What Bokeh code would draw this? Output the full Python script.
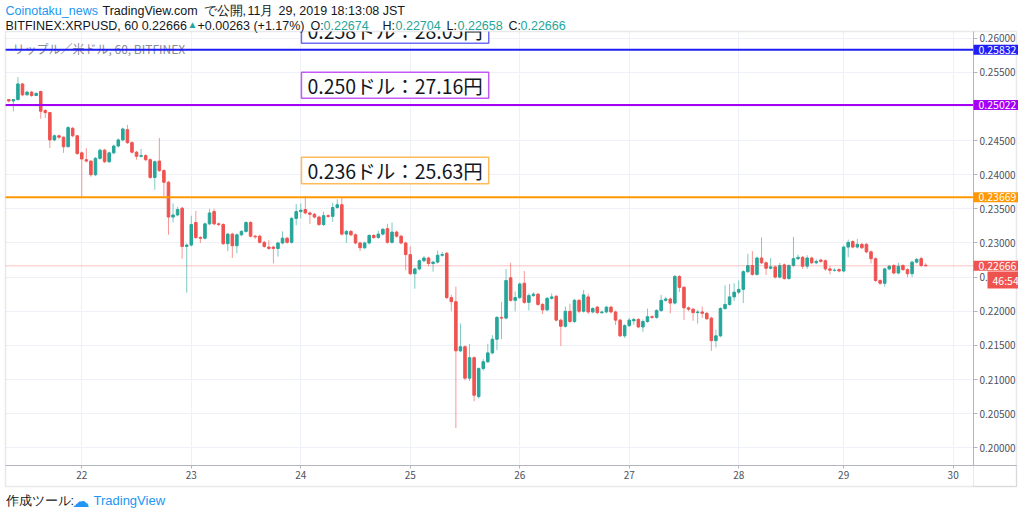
from bokeh.plotting import figure
from bokeh.models import (ColumnDataSource, Label, BoxAnnotation, FixedTicker,
                          LinearAxis, NumeralTickFormatter, Range1d)
from bokeh.core.properties import value
from bokeh.embed import file_html
from bokeh.resources import INLINE

# ---------------- data (hourly bars, BITFINEX XRPUSD) ----------------
opens = [
    0.2510, 0.2508, 0.2510, 0.2533, 0.2517, 0.2521, 0.2516, 0.2522, 0.2494, 0.2491,
    0.2451, 0.2457, 0.2455, 0.2441, 0.2468, 0.2457, 0.2432, 0.2422, 0.2420, 0.2400,
    0.2424, 0.2436, 0.2419, 0.2432, 0.2442, 0.2451, 0.2466, 0.2447, 0.2433, 0.2427,
    0.2428, 0.2422, 0.2396, 0.2420, 0.2406, 0.2389, 0.2338, 0.2341, 0.2351, 0.2295,
    0.2297, 0.2330, 0.2308, 0.2307, 0.2328, 0.2346, 0.2328, 0.2327, 0.2299, 0.2313,
    0.2296, 0.2312, 0.2317, 0.2330, 0.2310, 0.2310, 0.2301, 0.2294, 0.2294, 0.2292,
    0.2300, 0.2307, 0.2301, 0.2336, 0.2346, 0.2349, 0.2344, 0.2342, 0.2338, 0.2327,
    0.2340, 0.2339, 0.2352, 0.2356, 0.2313, 0.2317, 0.2312, 0.2300, 0.2293, 0.2300,
    0.2311, 0.2308, 0.2313, 0.2321, 0.2301, 0.2316, 0.2310, 0.2300, 0.2283, 0.2255,
    0.2262, 0.2274, 0.2278, 0.2270, 0.2272, 0.2282, 0.2285, 0.2220, 0.2214, 0.2142,
    0.2148, 0.2102, 0.2132, 0.2075, 0.2116, 0.2126, 0.2139, 0.2159, 0.2191, 0.2190,
    0.2249, 0.2216, 0.2220, 0.2241, 0.2213, 0.2223, 0.2225, 0.2210, 0.2202, 0.2219,
    0.2222, 0.2187, 0.2178, 0.2200, 0.2185, 0.2216, 0.2200, 0.2221, 0.2199, 0.2206,
    0.2198, 0.2199, 0.2206, 0.2199, 0.2187, 0.2164, 0.2179, 0.2186, 0.2188, 0.2177,
    0.2185, 0.2192, 0.2191, 0.2201, 0.2216, 0.2218, 0.2212, 0.2251, 0.2235, 0.2205,
    0.2203, 0.2198, 0.2199, 0.2197, 0.2190, 0.2157, 0.2164, 0.2204, 0.2210, 0.2221,
    0.2228, 0.2232, 0.2258, 0.2267, 0.2254, 0.2278, 0.2271, 0.2263, 0.2265, 0.2250,
    0.2268, 0.2248, 0.2267, 0.2277, 0.2279, 0.2266, 0.2278, 0.2271, 0.2275, 0.2274,
    0.2262, 0.2260, 0.2261, 0.2259, 0.2294, 0.2302, 0.2294, 0.2298, 0.2298, 0.2287,
    0.2277, 0.2245, 0.2241, 0.2262, 0.2267, 0.2256, 0.2267, 0.2261, 0.2255, 0.2272,
    0.2277, 0.22674,
]
highs = [
    0.2511, 0.2511, 0.2543, 0.2534, 0.2523, 0.2523, 0.2521, 0.2523, 0.2496, 0.2492,
    0.2459, 0.2459, 0.2456, 0.2471, 0.2470, 0.2458, 0.2434, 0.2439, 0.2421, 0.2426,
    0.2438, 0.2438, 0.2434, 0.2444, 0.2453, 0.2469, 0.2473, 0.2449, 0.2435, 0.2438,
    0.2430, 0.2424, 0.2421, 0.2454, 0.2408, 0.2391, 0.2358, 0.2353, 0.2353, 0.2299,
    0.2340, 0.2347, 0.2310, 0.2330, 0.2350, 0.2350, 0.2330, 0.2329, 0.2315, 0.2315,
    0.2314, 0.2319, 0.2332, 0.2332, 0.2312, 0.2312, 0.2303, 0.2304, 0.2296, 0.2302,
    0.2317, 0.2309, 0.2338, 0.2357, 0.2358, 0.2369, 0.2346, 0.2344, 0.2340, 0.2346,
    0.2342, 0.2359, 0.2364, 0.2367, 0.2319, 0.2319, 0.2314, 0.2302, 0.2302, 0.2313,
    0.2313, 0.2318, 0.2322, 0.2328, 0.2330, 0.2318, 0.2312, 0.2302, 0.2295, 0.2264,
    0.2276, 0.2281, 0.2280, 0.2274, 0.2289, 0.2287, 0.2287, 0.2224, 0.2236, 0.2182,
    0.2150, 0.2152, 0.2134, 0.2118, 0.2130, 0.2152, 0.2165, 0.2193, 0.2214, 0.2262,
    0.2271, 0.2229, 0.2242, 0.2259, 0.2226, 0.2228, 0.2227, 0.2212, 0.2221, 0.2226,
    0.2224, 0.2189, 0.2207, 0.2211, 0.2218, 0.2218, 0.2231, 0.2226, 0.2206, 0.2208,
    0.2201, 0.2208, 0.2208, 0.2201, 0.2189, 0.2181, 0.2190, 0.2190, 0.2190, 0.2188,
    0.2204, 0.2194, 0.2203, 0.2224, 0.2221, 0.2220, 0.2253, 0.2253, 0.2237, 0.2207,
    0.2205, 0.2202, 0.2207, 0.2199, 0.2192, 0.2173, 0.2206, 0.2238, 0.2240, 0.2241,
    0.2245, 0.2260, 0.2284, 0.2288, 0.2280, 0.2308, 0.2273, 0.2278, 0.2267, 0.2271,
    0.2270, 0.2269, 0.2309, 0.2283, 0.2281, 0.2282, 0.2280, 0.2276, 0.2277, 0.2276,
    0.2266, 0.2263, 0.2263, 0.2296, 0.2305, 0.2304, 0.2306, 0.2300, 0.2300, 0.2289,
    0.2279, 0.2247, 0.2264, 0.2268, 0.2269, 0.2271, 0.2269, 0.2263, 0.2274, 0.2278,
    0.2280, 0.22704,
]
lows = [
    0.2506, 0.2493, 0.2509, 0.2515, 0.2516, 0.2514, 0.2515, 0.2482, 0.2483, 0.2439,
    0.2449, 0.2452, 0.2432, 0.2440, 0.2455, 0.2429, 0.2367, 0.2418, 0.2397, 0.2398,
    0.2422, 0.2417, 0.2417, 0.2430, 0.2440, 0.2449, 0.2445, 0.2431, 0.2422, 0.2425,
    0.2420, 0.2394, 0.2378, 0.2404, 0.2368, 0.2312, 0.2330, 0.2339, 0.2277, 0.2227,
    0.2295, 0.2306, 0.2300, 0.2305, 0.2326, 0.2326, 0.2325, 0.2297, 0.2288, 0.2278,
    0.2285, 0.2310, 0.2315, 0.2308, 0.2306, 0.2299, 0.2293, 0.2290, 0.2270, 0.2280,
    0.2298, 0.2299, 0.2299, 0.2326, 0.2336, 0.2342, 0.2328, 0.2336, 0.2325, 0.2325,
    0.2337, 0.2331, 0.2350, 0.2311, 0.2300, 0.2310, 0.2298, 0.2288, 0.2291, 0.2298,
    0.2306, 0.2306, 0.2311, 0.2299, 0.2299, 0.2308, 0.2298, 0.2260, 0.2253, 0.2233,
    0.2260, 0.2272, 0.2266, 0.2258, 0.2270, 0.2280, 0.2218, 0.2200, 0.2029, 0.2140,
    0.2099, 0.2098, 0.2068, 0.2072, 0.2113, 0.2124, 0.2137, 0.2143, 0.2159, 0.2188,
    0.2214, 0.2200, 0.2218, 0.2211, 0.2201, 0.2221, 0.2208, 0.2196, 0.2200, 0.2217,
    0.2185, 0.2149, 0.2176, 0.2183, 0.2183, 0.2197, 0.2198, 0.2196, 0.2197, 0.2196,
    0.2196, 0.2197, 0.2197, 0.2180, 0.2162, 0.2161, 0.2177, 0.2180, 0.2175, 0.2170,
    0.2183, 0.2189, 0.2189, 0.2199, 0.2214, 0.2197, 0.2210, 0.2228, 0.2187, 0.2200,
    0.2186, 0.2182, 0.2190, 0.2187, 0.2142, 0.2147, 0.2162, 0.2202, 0.2208, 0.2215,
    0.2225, 0.2212, 0.2256, 0.2252, 0.2252, 0.2269, 0.2253, 0.2261, 0.2248, 0.2248,
    0.2246, 0.2246, 0.2265, 0.2275, 0.2262, 0.2262, 0.2269, 0.2269, 0.2271, 0.2259,
    0.2254, 0.2258, 0.2257, 0.2257, 0.2279, 0.2292, 0.2292, 0.2291, 0.2285, 0.2270,
    0.2243, 0.2239, 0.2236, 0.2260, 0.2254, 0.2254, 0.2259, 0.2250, 0.2250, 0.2270,
    0.2265, 0.22658,
]
closes = [
    0.2508, 0.2510, 0.2533, 0.2517, 0.2521, 0.2516, 0.2519, 0.2493, 0.2491, 0.2451,
    0.2457, 0.2455, 0.2441, 0.2469, 0.2457, 0.2431, 0.2423, 0.2420, 0.2400, 0.2424,
    0.2436, 0.2419, 0.2432, 0.2442, 0.2451, 0.2467, 0.2447, 0.2433, 0.2427, 0.2428,
    0.2422, 0.2396, 0.2419, 0.2406, 0.2389, 0.2338, 0.2341, 0.2349, 0.2295, 0.2297,
    0.2327, 0.2308, 0.2307, 0.2328, 0.2344, 0.2328, 0.2327, 0.2299, 0.2313, 0.2296,
    0.2312, 0.2317, 0.2330, 0.2310, 0.2309, 0.2301, 0.2295, 0.2292, 0.2292, 0.2300,
    0.2307, 0.2301, 0.2336, 0.2346, 0.2348, 0.2344, 0.2342, 0.2338, 0.2327, 0.2340,
    0.2339, 0.2352, 0.2356, 0.2313, 0.2317, 0.2312, 0.2300, 0.2293, 0.2300, 0.2311,
    0.2308, 0.2313, 0.2320, 0.2301, 0.2316, 0.2310, 0.2300, 0.2283, 0.2255, 0.2262,
    0.2274, 0.2278, 0.2270, 0.2272, 0.2282, 0.2283, 0.2220, 0.2214, 0.2142, 0.2148,
    0.2102, 0.2132, 0.2077, 0.2116, 0.2126, 0.2139, 0.2159, 0.2191, 0.2190, 0.2245,
    0.2216, 0.2220, 0.2240, 0.2213, 0.2223, 0.2225, 0.2210, 0.2202, 0.2219, 0.2221,
    0.2187, 0.2178, 0.2200, 0.2185, 0.2216, 0.2200, 0.2224, 0.2199, 0.2204, 0.2198,
    0.2199, 0.2206, 0.2199, 0.2187, 0.2164, 0.2179, 0.2187, 0.2188, 0.2177, 0.2185,
    0.2192, 0.2191, 0.2201, 0.2216, 0.2218, 0.2212, 0.2251, 0.2235, 0.2205, 0.2203,
    0.2198, 0.2199, 0.2197, 0.2189, 0.2157, 0.2164, 0.2204, 0.2210, 0.2221, 0.2228,
    0.2232, 0.2258, 0.2267, 0.2254, 0.2278, 0.2271, 0.2263, 0.2265, 0.2250, 0.2267,
    0.2248, 0.2267, 0.2277, 0.2279, 0.2266, 0.2278, 0.2271, 0.2273, 0.2273, 0.2262,
    0.2260, 0.2260, 0.2259, 0.2294, 0.2301, 0.2294, 0.2298, 0.2293, 0.2287, 0.2277,
    0.2245, 0.2241, 0.2262, 0.2266, 0.2256, 0.2266, 0.2261, 0.2255, 0.2272, 0.2276,
    0.2267, 0.22666,
]

# bar index of each day's first (00:00 JST) bar, and its label
day_tick_bars = [16, 40, 64, 88, 112, 136, 160, 183, 207]
day_tick_labels = ["22", "23", "24", "25", "26", "27", "28", "29", "30"]
price_ticks = [0.200, 0.205, 0.210, 0.215, 0.220, 0.225, 0.230,
               0.235, 0.240, 0.245, 0.250, 0.255, 0.260]

level_prices = [0.25832, 0.25022, 0.23669]
level_labels = ["0.25832", "0.25022", "0.23669"]
level_texts = ["0.258ドル：28.05円", "0.250ドル：27.16円", "0.236ドル：25.63円"]
note_top = [0.26308, 0.25502, 0.24257]
note_bottom = [0.25927, 0.25121, 0.23867]
note_left_bar = [64.15, 64.15, 64.15]
note_right_bar = [105.2, 105.2, 105.2]

last_price = 0.22666
last_label = "0.22666"
countdown = "46:54"

# ---------------- style / layout ----------------
UP = "#26a69a"
DOWN = "#ef5350"
LEVEL_COLORS = ["#1e1ef5", "#a500f5", "#ff9800"]
BORDER = "#b2b5be"
AXIS_TXT = "#4c525e"
BLACK = "#131722"
BLUE = "#2196f3"
FONT = "Noto Sans CJK JP"
HFONT = "Liberation Sans"

W, H = 1018, 512
BAR0_PX, PX_PER_BAR = 8.3, 4.562       # pixel of bar 0, pixels per bar
P200_PX, PX_PER_UNIT = 447.3, 6827.0   # pixel of price 0.200, pixels per 1.0 price


def X(px):
    return (px - BAR0_PX) / PX_PER_BAR


def Y(py):
    return 0.20 + (P200_PX - py) / PX_PER_UNIT


PANE_L, PANE_R, PANE_T, PANE_B, AXIS_B = 5, 973, 31, 465, 486
OUTER_R = 1016

n = len(closes)
bars = list(range(n))
colors = [UP if c >= o else DOWN for o, c in zip(opens, closes)]
src = ColumnDataSource(dict(
    x=bars, open=opens, high=highs, low=lows, close=closes,
    top=[max(o, c) for o, c in zip(opens, closes)],
    bottom=[min(o, c) for o, c in zip(opens, closes)],
    color=colors,
))

p = figure(width=W, height=H, x_range=Range1d(X(0), X(W)), y_range=Range1d(Y(H), Y(0)),
           x_axis_location=None, y_axis_location=None,
           toolbar_location=None, output_backend="svg", min_border=0,
           background_fill_color="white", border_fill_color="white",
           outline_line_color=None)

# grids (lines outside the pane are covered below)
p.xgrid.ticker = FixedTicker(ticks=day_tick_bars)
p.ygrid.ticker = FixedTicker(ticks=price_ticks)
p.grid.grid_line_color = "#eef1f7"

# candles
p.segment(x0="x", y0="high", x1="x", y1="low", source=src, line_color="color",
          line_alpha=0.6, line_width=1)
p.vbar(x="x", top="top", bottom="bottom", width=0.56, source=src,
       fill_color="color", line_color="color", line_width=1)

# note boxes
p.quad(left=note_left_bar, right=note_right_bar, top=note_top, bottom=note_bottom,
       fill_color="white", line_color=LEVEL_COLORS, line_alpha=0.65, line_width=1.5)
p.text(x=note_left_bar, y=[(t + b) / 2 for t, b in zip(note_top, note_bottom)],
       text=level_texts, x_offset=6, text_baseline="middle", text_align="left",
       text_font=value(FONT), text_font_size="19.5px", text_color=BLACK)

# white covers outside the chart pane (header, footer, price-scale strip)
p.quad(left=[X(-20), X(-20), X(PANE_R), X(-20)],
       right=[X(W + 20), X(W + 20), X(W + 20), X(PANE_L)],
       top=[Y(-20), Y(PANE_B), Y(PANE_T), Y(PANE_T)],
       bottom=[Y(PANE_T), Y(H + 20), Y(PANE_B), Y(PANE_B)],
       fill_color="white", line_color=None)

# pane legend title (under the blue line)
p.text(x=[X(12)], y=[Y(47.5)], text=["リップル／米ドル, 60, BITFINEX"],
       text_font=value(FONT), text_font_size="12px", text_color="#8a8d96",
       text_baseline="middle", text_align="left")

# last price line and horizontal levels
p.segment(x0=[X(PANE_L)], x1=[X(PANE_R)], y0=[last_price], y1=[last_price],
          line_color=DOWN, line_alpha=0.35, line_width=1)
p.segment(x0=[X(PANE_L)] * 3, x1=[X(PANE_R)] * 3, y0=level_prices, y1=level_prices,
          line_color=LEVEL_COLORS, line_width=2)

# axes (fixed at the pane edges)
yax = LinearAxis(fixed_location=X(PANE_R), bounds=(Y(PANE_B), Y(PANE_T)),
                 ticker=FixedTicker(ticks=price_ticks),
                 formatter=NumeralTickFormatter(format="0.00000"))
xax = LinearAxis(fixed_location=Y(PANE_B), bounds=(X(PANE_L), X(OUTER_R)),
                 ticker=FixedTicker(ticks=day_tick_bars),
                 major_label_overrides={b: l for b, l in zip(day_tick_bars, day_tick_labels)})
for ax in (xax, yax):
    ax.axis_line_color = BORDER
    ax.major_tick_line_color = BORDER
    ax.minor_tick_line_color = None
    ax.major_tick_in = 0
    ax.major_tick_out = 4
    ax.major_label_text_font = FONT
    ax.major_label_text_font_size = "10px"
    ax.major_label_text_color = AXIS_TXT
    ax.major_label_standoff = 2
xax.major_tick_out = 3
p.add_layout(yax, "right")
p.add_layout(xax, "below")

# outer frame of the chart panel
p.add_layout(BoxAnnotation(left=X(PANE_L), right=X(OUTER_R), top=Y(PANE_T), bottom=Y(AXIS_B),
                           fill_alpha=0, line_color=BORDER, line_width=1.5))
p.add_layout(BoxAnnotation(left=X(PANE_R), right=X(OUTER_R), top=Y(PANE_B), bottom=Y(AXIS_B),
                           fill_alpha=0, line_color=BORDER, line_width=1))

# price tags on the price scale
pad = dict(left=5, right=3, top=1, bottom=1)
for lbl, lp, col in zip(level_labels + [last_label], level_prices + [last_price],
                        LEVEL_COLORS + [DOWN]):
    p.add_layout(Label(x=X(PANE_R), y=lp, text=lbl,
                       text_font=FONT, text_font_size="10.5px", text_color="white",
                       text_baseline="middle", text_align="left",
                       background_fill_color=col, padding=pad))
p.add_layout(Label(x=X(987), y=Y(279.5), text=countdown, text_font=FONT,
                   text_font_size="10.5px", text_color="white", text_baseline="middle",
                   text_align="left", background_fill_color=DOWN, padding=pad))

# header and footer texts (segments placed where the original shows them)
header = [
    ("Coinotaku_news", 5, 10.5, BLUE, "12.5px"),
    ("TradingView.com", 102, 10.5, BLACK, "12.5px"),
    ("で公開,", 203, 10.5, BLACK, "12.5px"),
    ("11月", 247, 10.5, BLACK, "12.5px"),
    ("29, 2019 18:13:08 JST", 278, 10.5, BLACK, "12.5px"),
    ("BITFINEX:XRPUSD, 60 0.22666", 5, 25, BLACK, "12.5px"),
    ("▲", 187, 24, UP, "10px"),
    ("+0.00263 (+1.17%)", 197, 25, BLACK, "12.5px"),
    ("O:", 310, 25, BLACK, "12.5px"),
    ("0.22674", 323, 25, UP, "12.5px"),
    ("H:", 382, 25, BLACK, "12.5px"),
    ("0.22704", 395, 25, UP, "12.5px"),
    ("L:", 446, 25, BLACK, "12.5px"),
    ("0.22658", 457, 25, UP, "12.5px"),
    ("C:", 508, 25, BLACK, "12.5px"),
    ("0.22666", 520, 25, UP, "12.5px"),
    ("作成ツール:", 5, 500, BLACK, "12.5px"),
    ("TradingView", 93, 500, BLUE, "13px"),
]
hsrc = ColumnDataSource(dict(
    x=[X(h[1]) for h in header], y=[Y(h[2]) for h in header],
    text=[h[0] for h in header], color=[h[3] for h in header],
    size=[h[4] for h in header],
))
p.text(x="x", y="y", text="text", text_color="color", text_font_size="size",
       text_font=value(HFONT), text_baseline="middle", text_align="left", source=hsrc)
p.text(x=[X(72)], y=[Y(500)], text=["☁"], text_font=value("DejaVu Sans"),
       text_font_size="17px", text_color=BLUE, text_baseline="middle", text_align="left")

open("out.html", "w").write(file_html(p, INLINE))
